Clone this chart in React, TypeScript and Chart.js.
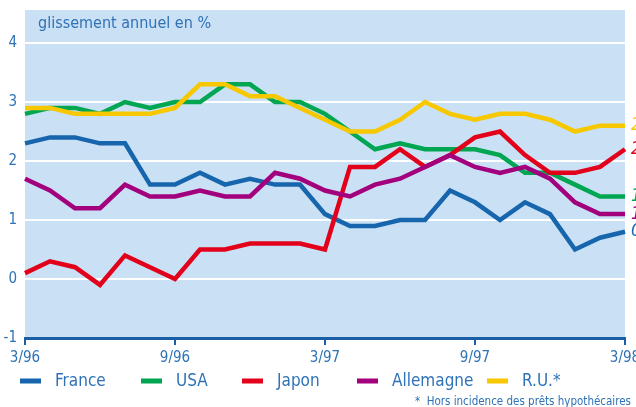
import React, { useEffect, useRef } from 'react';
import { Chart, registerables } from 'chart.js';
Chart.register(...registerables);

const months = ['3/96','4/96','5/96','6/96','7/96','8/96','9/96','10/96','11/96','12/96','1/97','2/97','3/97','4/97','5/97','6/97','7/97','8/97','9/97','10/97','11/97','12/97','1/98','2/98','3/98'];
const shownTicks = ['3/96','9/96','3/97','9/97','3/98'];
const seriesNames = ['France','USA','Japon','Allemagne','R.U.*'];
const france = [2.3,2.4,2.4,2.3,2.3,1.6,1.6,1.8,1.6,1.7,1.6,1.6,1.1,0.9,0.9,1.0,1.0,1.5,1.3,1.0,1.3,1.1,0.5,0.7,0.8];
const usa = [2.8,2.9,2.9,2.8,3.0,2.9,3.0,3.0,3.3,3.3,3.0,3.0,2.8,2.5,2.2,2.3,2.2,2.2,2.2,2.1,1.8,1.8,1.6,1.4,1.4];
const japon = [0.1,0.3,0.2,-0.1,0.4,0.2,0.0,0.5,0.5,0.6,0.6,0.6,0.5,1.9,1.9,2.2,1.9,2.1,2.4,2.5,2.1,1.8,1.8,1.9,2.2];
const allemagne = [1.7,1.5,1.2,1.2,1.6,1.4,1.4,1.5,1.4,1.4,1.8,1.7,1.5,1.4,1.6,1.7,1.9,2.1,1.9,1.8,1.9,1.7,1.3,1.1,1.1];
const ru = [2.9,2.9,2.8,2.8,2.8,2.8,2.9,3.3,3.3,3.1,3.1,2.9,2.7,2.5,2.5,2.7,3.0,2.8,2.7,2.8,2.8,2.7,2.5,2.6,2.6];
const yTicks = [-1, 0, 1, 2, 3, 4];
const colors = ['#1766ad', '#00a651', '#e2001a', '#a3007e', '#f7c800'];
const titleText = 'glissement annuel en %';
const footnote = '*  Hors incidence des prêts hypothécaires';

const FONT = "'Liberation Sans Narrow', 'DejaVu Sans Condensed', 'Roboto', sans-serif";
const TEXT_BLUE = '#2f72b6';
const AXIS_BLUE = '#1a5ea6';
const BG = '#cae0f4';

const decorPlugin = {
  id: 'decor',
  beforeDraw(chart: any) {
    const { ctx, chartArea } = chart;
    ctx.save();
    ctx.fillStyle = BG;
    ctx.fillRect(chartArea.left, chartArea.top, chartArea.right - chartArea.left, chartArea.bottom - chartArea.top);
    ctx.restore();
  },
  afterDraw(chart: any) {
    const { ctx, chartArea } = chart;
    ctx.save();
    ctx.fillStyle = TEXT_BLUE;
    ctx.font = `16px ${FONT}`;
    ctx.textBaseline = 'middle';
    ctx.textAlign = 'left';
    ctx.fillText(titleText, chartArea.left + 13, chartArea.top + 14);

    const ys = chart.scales.y;
    ctx.font = `italic 18px ${FONT}`;
    chart.data.datasets.forEach((ds: any) => {
      const v = ds.data[ds.data.length - 1];
      ctx.fillStyle = ds.borderColor;
      ctx.fillText(String(v).replace('.', ','), chartArea.right + 6, ys.getPixelForValue(v));
    });

    const legendX = [20, 141, 242, 357, 487];
    const legendY = 381;
    ctx.font = `17px ${FONT}`;
    chart.data.datasets.forEach((ds: any, i: number) => {
      ctx.fillStyle = ds.borderColor;
      ctx.fillRect(legendX[i], legendY - 2.5, 21, 5);
      ctx.fillStyle = TEXT_BLUE;
      ctx.fillText(ds.label, legendX[i] + 35, legendY + 1);
    });

    ctx.font = `11.5px ${FONT}`;
    ctx.fillStyle = TEXT_BLUE;
    ctx.textAlign = 'right';
    ctx.fillText(footnote, 631, 402);
    ctx.restore();
  },
};

export default function App() {
  const ref = useRef<HTMLCanvasElement>(null);
  useEffect(() => {
    document.body.style.margin = '0';
    const seriesData = [france, usa, japon, allemagne, ru];
    const chart = new Chart(ref.current!, {
      type: 'line',
      data: {
        labels: months,
        datasets: seriesData.map((d, i) => ({
          label: seriesNames[i],
          data: d,
          borderColor: colors[i],
          backgroundColor: colors[i],
          borderWidth: 4.5,
          pointRadius: 0,
          tension: 0,
          fill: false,
          clip: false as any,
          order: 5 - i,
        })),
      },
      options: {
        responsive: false,
        animation: false,
        layout: { padding: { top: 10, right: 11, left: 0, bottom: 0 } },
        plugins: { legend: { display: false }, tooltip: { enabled: false }, title: { display: false } },
        scales: {
          x: {
            type: 'category',
            offset: false,
            afterFit(scale: any) {
              scale.height = 69;
              scale.paddingLeft = 0;
              scale.paddingRight = 0;
            },
            grid: {
              drawOnChartArea: false,
              drawTicks: true,
              tickLength: 7,
              color: AXIS_BLUE,
              lineWidth: 2,
            },
            border: { display: true, color: AXIS_BLUE, width: 3 },
            ticks: {
              autoSkip: false,
              maxRotation: 0,
              minRotation: 0,
              padding: 4,
              color: TEXT_BLUE,
              font: { family: FONT, size: 15 },
              callback(this: any, value: any) {
                const lab = this.getLabelForValue(value);
                return shownTicks.includes(lab) ? lab : null;
              },
            },
          },
          y: {
            min: -1,
            max: 4.56,
            afterBuildTicks(scale: any) {
              scale.ticks = yTicks.map((v) => ({ value: v }));
            },
            afterFit(scale: any) {
              scale.width = 25;
              scale.paddingTop = 0;
              scale.paddingBottom = 0;
            },
            grid: {
              drawTicks: false,
              lineWidth: 2,
              color: (c: any) => (c.tick && c.tick.value === -1 ? 'rgba(0,0,0,0)' : '#ffffff'),
            },
            border: { display: false },
            ticks: {
              padding: 8,
              color: TEXT_BLUE,
              font: { family: FONT, size: 15 },
              callback: (v: any) => String(v),
            },
          },
        },
      },
      plugins: [decorPlugin],
    });
    return () => chart.destroy();
  }, []);
  return (
    <div style={{ width: 636, height: 407 }}>
      <canvas ref={ref} width={636} height={407} style={{ display: 'block' }} />
    </div>
  );
}
